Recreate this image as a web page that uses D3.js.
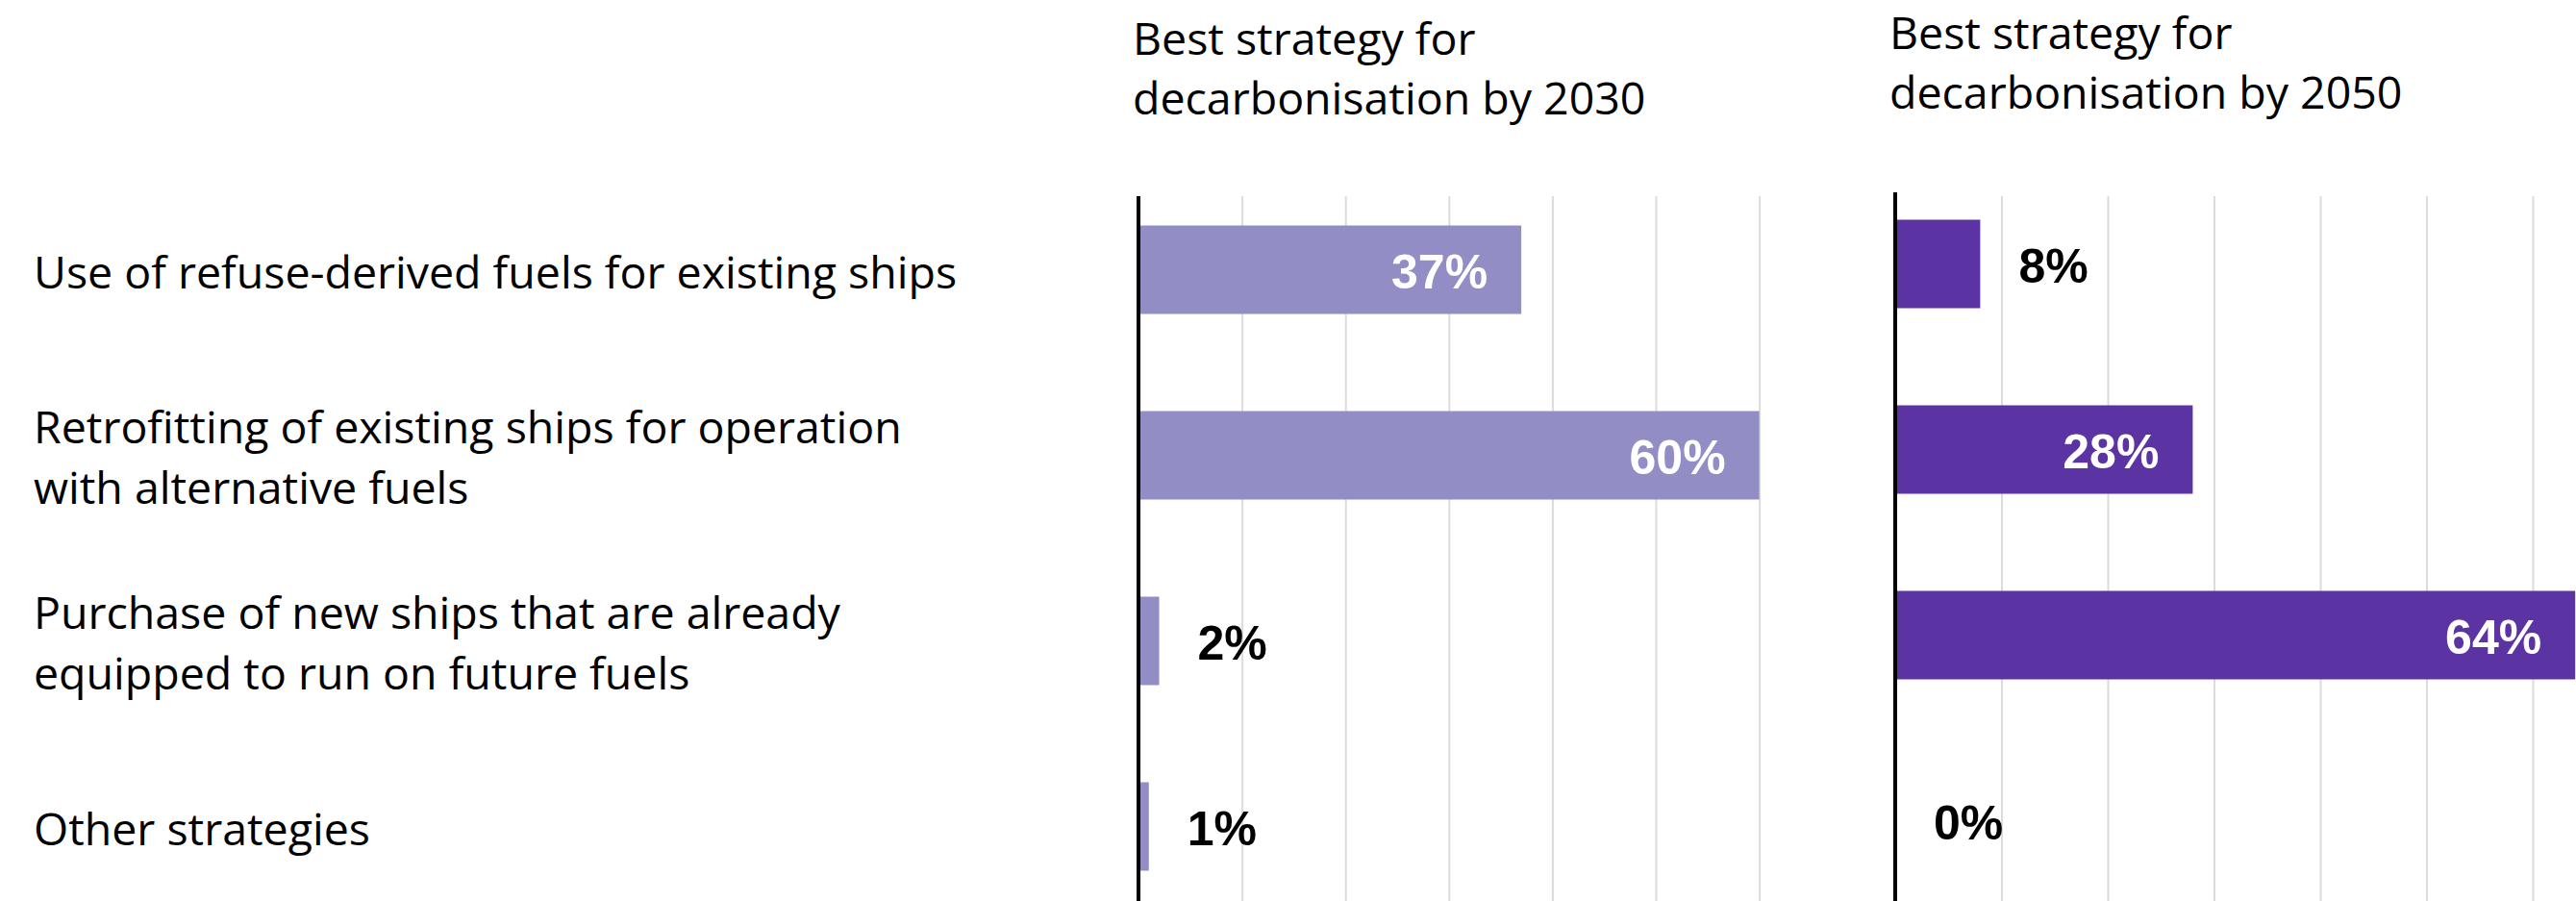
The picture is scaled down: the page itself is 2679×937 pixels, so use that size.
<!DOCTYPE html>
<html>
<head>
<meta charset="utf-8">
<script src="https://cdn.jsdelivr.net/npm/d3@7"></script>
<style>
  html, body { margin: 0; padding: 0; background: #ffffff; }
  svg { display: block; }
</style>
</head>
<body>
<script>
// Survey answers: best strategy for decarbonisation, share of respondents (%)
const categories = [
  "Use of refuse-derived fuels for existing ships",
  "Retrofitting of existing ships for operation with alternative fuels",
  "Purchase of new ships that are already equipped to run on future fuels",
  "Other strategies"
];
const categoryLines = [
  ["Use of refuse-derived fuels for existing ships"],
  ["Retrofitting of existing ships for operation", "with alternative fuels"],
  ["Purchase of new ships that are already", "equipped to run on future fuels"],
  ["Other strategies"]
];
const values2030 = [37, 60, 2, 1];
const values2050 = [8, 28, 64, 0];
const title2030 = ["Best strategy for", "decarbonisation by 2030"];
const title2050 = ["Best strategy for", "decarbonisation by 2050"];
const gridTicks2030 = [10, 20, 30, 40, 50, 60];
const gridTicks2050 = [10, 20, 30, 40, 50, 60, 70];

const W = 2679, H = 937;
const svg = d3.select("body").append("svg")
  .attr("width", W).attr("height", H)
  .attr("viewBox", `0 0 ${W} ${H}`);

svg.append("rect").attr("width", W).attr("height", H).attr("fill", "#ffffff");

const textFont = "'Open Sans', 'Noto Sans', sans-serif";
const valueFont = "'Liberation Sans', Arial, sans-serif";
const textSize = 46.5;

// Row labels on the left
const yRows = d3.scaleBand()
  .domain(categories)
  .range([184, 956])
  .paddingInner(1 - 92 / 193)
  .paddingOuter((1 - 92 / 193) / 2);

const lineGap = 63;
const capHalf = 16;
const labelG = svg.append("g").attr("class", "row-labels");
categories.forEach((c, i) => {
  const lines = categoryLines[i];
  const cy = yRows(c) + yRows.bandwidth() / 2 + 3;
  const first = cy - (lines.length - 1) * lineGap / 2 + capHalf;
  const t = labelG.append("text")
    .attr("x", 35)
    .attr("font-family", textFont)
    .attr("font-size", textSize)
    .attr("fill", "#000000");
  lines.forEach((ln, j) => {
    t.append("tspan").attr("x", 35).attr("y", first + j * lineGap).text(ln);
  });
});

function panel(opts) {
  const { values, title, ticks, x0, pxPerPct, domainMax, yTop, axisTop, titleBase, color } = opts;
  const x = d3.scaleLinear().domain([0, domainMax]).range([x0, x0 + pxPerPct * domainMax]);
  const y = d3.scaleBand()
    .domain(categories)
    .range([yTop, yTop + 772])
    .paddingInner(1 - 92 / 193)
    .paddingOuter((1 - 92 / 193) / 2);

  const g = svg.append("g");

  // title
  const tt = g.append("text")
    .attr("font-family", textFont)
    .attr("font-size", textSize)
    .attr("fill", "#000000");
  title.forEach((ln, j) => {
    tt.append("tspan").attr("x", x0 - 6).attr("y", titleBase + j * 62).text(ln);
  });

  // vertical gridlines from the axis generator
  const grid = d3.axisBottom(x).tickValues(ticks).tickSize(-(H - 204)).tickFormat("");
  const gg = g.append("g")
    .attr("transform", `translate(0,${H})`)
    .call(grid);
  gg.select(".domain").remove();
  gg.selectAll(".tick line").attr("stroke", "#dcdcdc").attr("stroke-width", 2);

  // bars
  g.selectAll("rect.bar")
    .data(values)
    .join("rect")
    .attr("class", "bar")
    .attr("x", x(0))
    .attr("y", (d, i) => y(categories[i]))
    .attr("width", d => x(d) - x(0))
    .attr("height", y.bandwidth())
    .attr("fill", color);

  // zero axis line
  g.append("line")
    .attr("x1", x(0)).attr("x2", x(0))
    .attr("y1", axisTop).attr("y2", H)
    .attr("stroke", "#000000")
    .attr("stroke-width", 4);

  // value labels
  g.selectAll("text.val")
    .data(values)
    .join("text")
    .attr("class", "val")
    .attr("font-family", valueFont)
    .attr("font-weight", "bold")
    .attr("font-size", 50)
    .attr("dominant-baseline", "central")
    .attr("y", (d, i) => y(categories[i]) + y.bandwidth() / 2 + 2)
    .attr("x", d => d >= 20 ? x(d) - 35 : x(d) + 40)
    .attr("text-anchor", d => d >= 20 ? "end" : "start")
    .attr("fill", d => d >= 20 ? "#ffffff" : "#000000")
    .text(d => d + "%");
}

panel({
  values: values2030, title: title2030, ticks: gridTicks2030,
  x0: 1184, pxPerPct: 10.76, domainMax: 60,
  yTop: 184, axisTop: 204, titleBase: 57, color: "#928dc4"
});

panel({
  values: values2050, title: title2050, ticks: gridTicks2050,
  x0: 1971, pxPerPct: 11.05, domainMax: 70,
  yTop: 178, axisTop: 200, titleBase: 51, color: "#5b33a3"
});
</script>
</body>
</html>
